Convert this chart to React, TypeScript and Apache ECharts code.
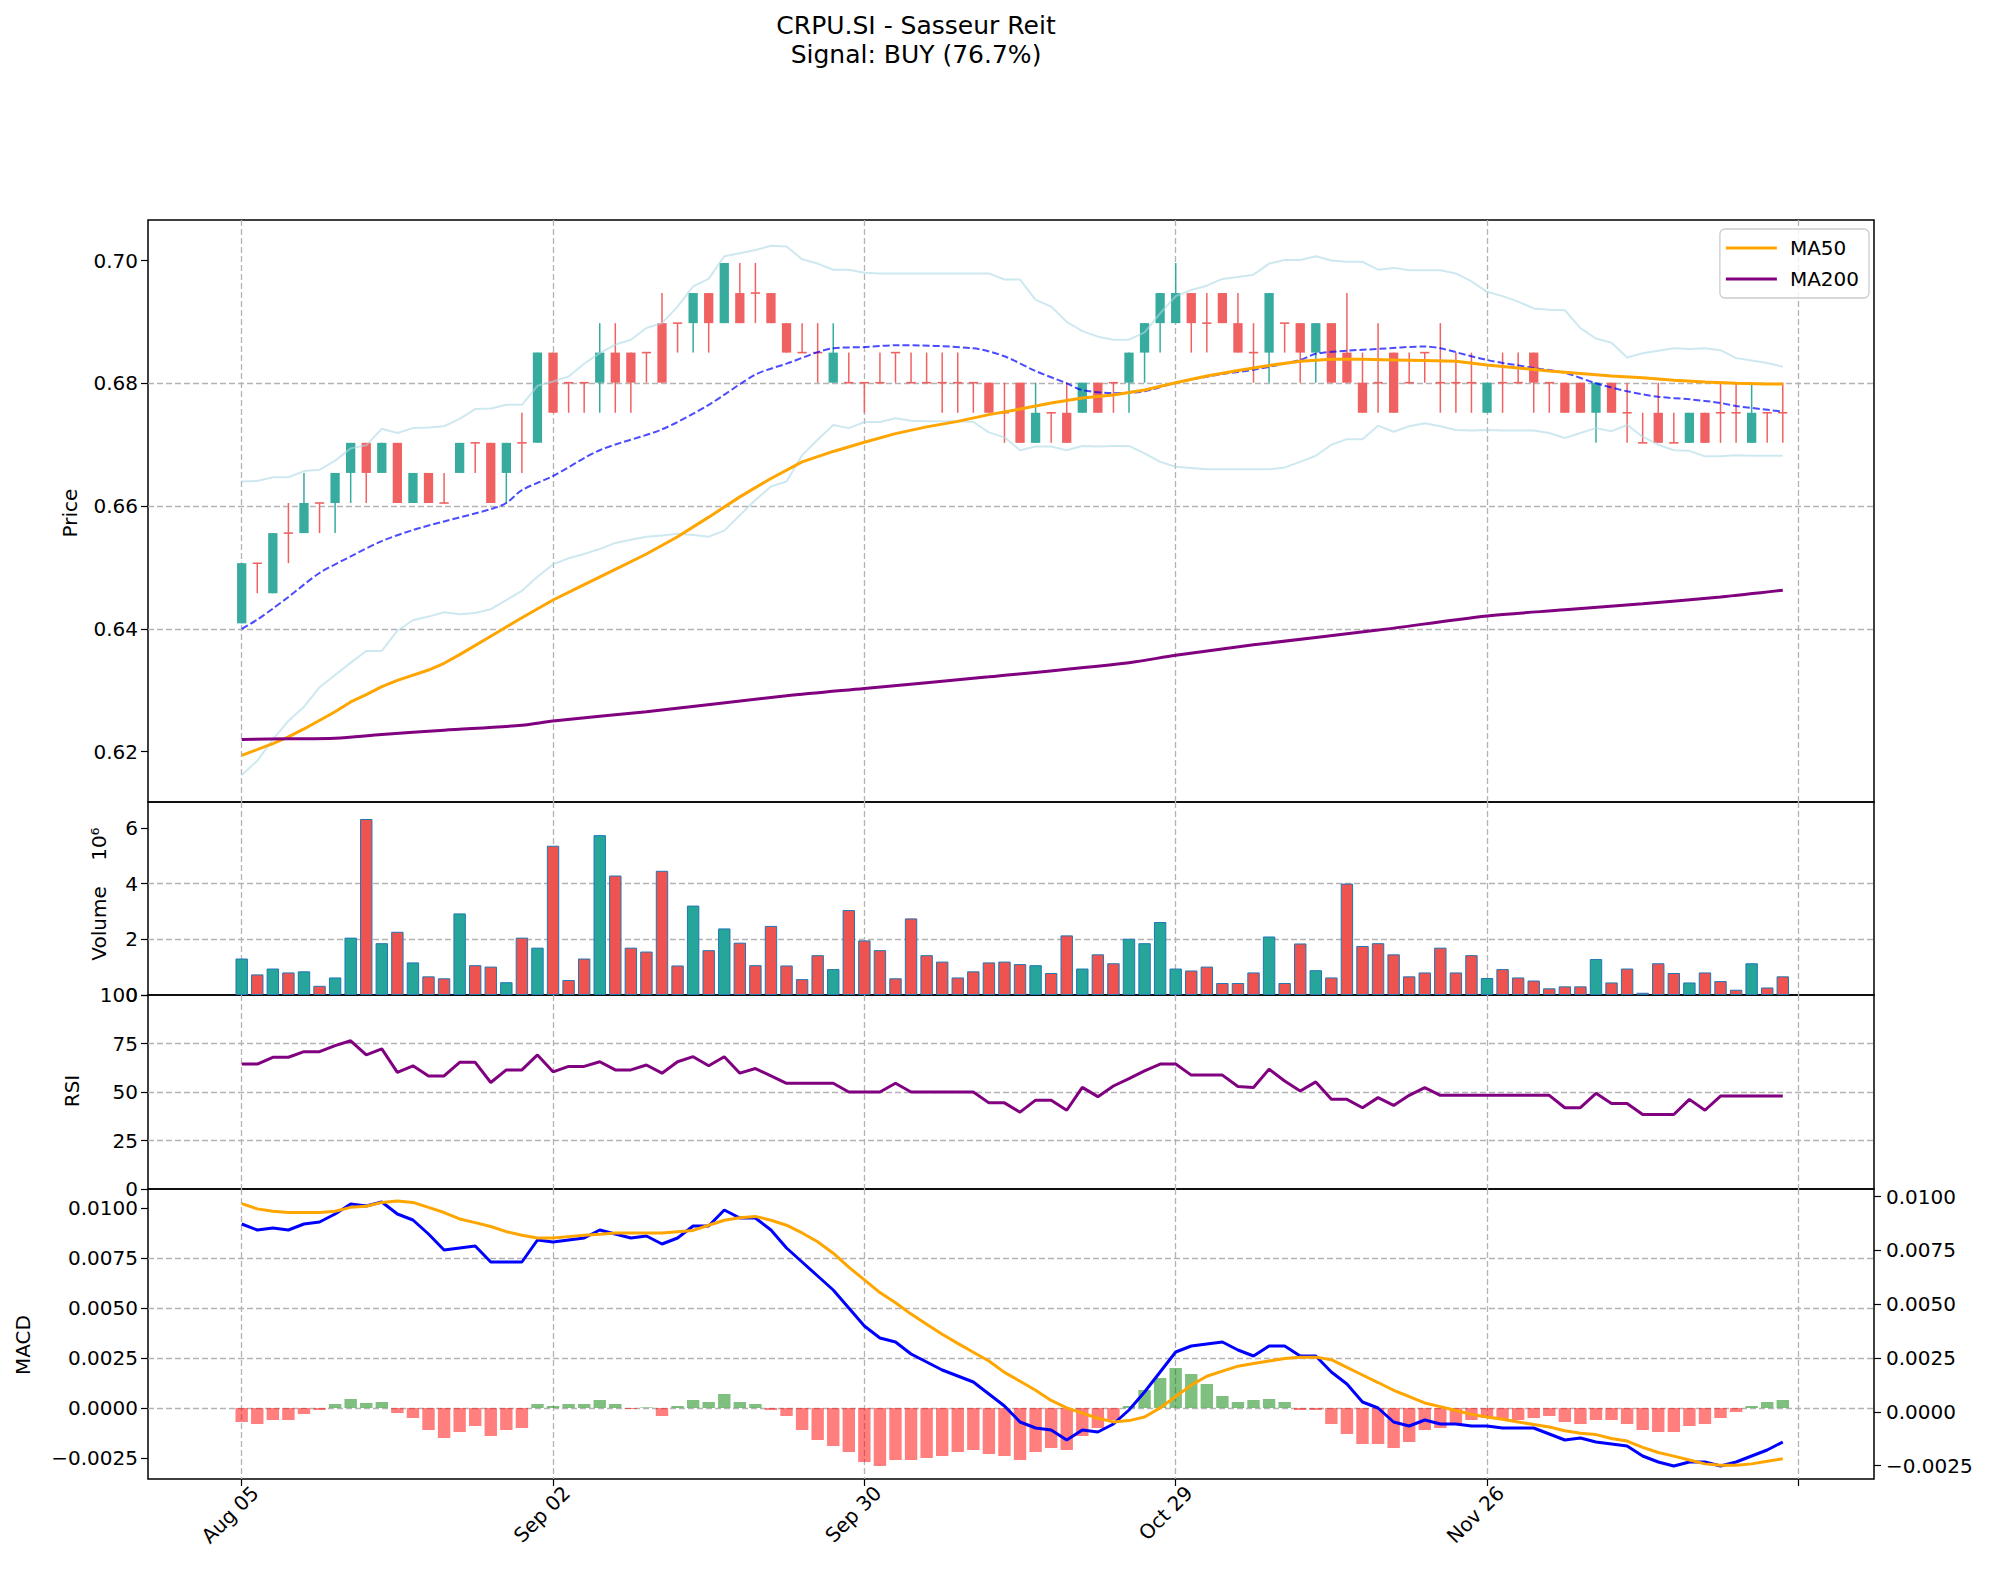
import React, { useEffect, useRef } from "react";
import * as echarts from "echarts";

const TITLE = "CRPU.SI - Sasseur Reit";
const SUBTITLE = "Signal: BUY (76.7%)";
const tickPositions = [0, 20, 40, 60, 80, 100];
const tickLabels = ["Aug 05", "Sep 02", "Sep 30", "Oct 29", "Nov 26", ""];
const priceTicks = [0.62, 0.64, 0.66, 0.68, 0.7];
const volumeTicks = [0, 2, 4, 6];
const rsiTicks = [0, 25, 50, 75, 100];
const macdTicks = [-0.0025, 0, 0.0025, 0.005, 0.0075, 0.01];

const opens = [
  0.6409, 0.6507, 0.6458, 0.6556, 0.6556, 0.6605, 0.6605, 0.6654, 0.6703, 0.6654,
  0.6703, 0.6605, 0.6654, 0.6605, 0.6654, 0.6703, 0.6703, 0.6654, 0.6703, 0.6703,
  0.685, 0.6801, 0.6801, 0.6801, 0.685, 0.685, 0.685, 0.6898, 0.6898, 0.6898,
  0.6947, 0.6898, 0.6947, 0.6947, 0.6947, 0.6898, 0.685, 0.685, 0.6801, 0.6801,
  0.6801, 0.6801, 0.685, 0.6801, 0.6801, 0.6801, 0.6801, 0.6801, 0.6801, 0.6752,
  0.6801, 0.6703, 0.6752, 0.6752, 0.6752, 0.6801, 0.6801, 0.6801, 0.685, 0.6898,
  0.6898, 0.6947, 0.6898, 0.6947, 0.6898, 0.685, 0.685, 0.6898, 0.6898, 0.685,
  0.6898, 0.685, 0.6801, 0.6801, 0.685, 0.6801, 0.685, 0.6801, 0.6801, 0.6801,
  0.6752, 0.6801, 0.6801, 0.685, 0.6801, 0.6801, 0.6801, 0.6752, 0.6801, 0.6752,
  0.6703, 0.6752, 0.6703, 0.6703, 0.6752, 0.6752, 0.6752, 0.6703, 0.6752, 0.6752,
];
const closes = [
  0.6507, 0.6507, 0.6556, 0.6556, 0.6605, 0.6605, 0.6654, 0.6703, 0.6654, 0.6703,
  0.6605, 0.6654, 0.6605, 0.6605, 0.6703, 0.6703, 0.6605, 0.6703, 0.6703, 0.685,
  0.6752, 0.6801, 0.6801, 0.685, 0.6801, 0.6801, 0.685, 0.6801, 0.6898, 0.6947,
  0.6898, 0.6996, 0.6898, 0.6947, 0.6898, 0.685, 0.685, 0.685, 0.685, 0.6801,
  0.6801, 0.6801, 0.685, 0.6801, 0.6801, 0.6801, 0.6801, 0.6801, 0.6752, 0.6752,
  0.6703, 0.6752, 0.6752, 0.6703, 0.6801, 0.6752, 0.6801, 0.685, 0.6898, 0.6947,
  0.6947, 0.6898, 0.6898, 0.6898, 0.685, 0.685, 0.6947, 0.6898, 0.685, 0.6898,
  0.6801, 0.6801, 0.6752, 0.6801, 0.6752, 0.6801, 0.685, 0.6801, 0.6801, 0.6801,
  0.6801, 0.6801, 0.6801, 0.6801, 0.6801, 0.6752, 0.6752, 0.6801, 0.6752, 0.6752,
  0.6703, 0.6703, 0.6703, 0.6752, 0.6703, 0.6752, 0.6752, 0.6752, 0.6752, 0.6752,
];
const lows = [
  0.6409, 0.6458, 0.6458, 0.6507, 0.6556, 0.6556, 0.6556, 0.6605, 0.6605, 0.6654,
  0.6605, 0.6605, 0.6605, 0.6605, 0.6654, 0.6654, 0.6605, 0.6605, 0.6654, 0.6703,
  0.6752, 0.6752, 0.6752, 0.6752, 0.6752, 0.6752, 0.6801, 0.6801, 0.685, 0.685,
  0.685, 0.6898, 0.6898, 0.6898, 0.6898, 0.685, 0.685, 0.6801, 0.6801, 0.6801,
  0.6752, 0.6801, 0.6801, 0.6801, 0.6801, 0.6752, 0.6752, 0.6752, 0.6752, 0.6703,
  0.6703, 0.6703, 0.6703, 0.6703, 0.6752, 0.6752, 0.6752, 0.6752, 0.6801, 0.685,
  0.6898, 0.685, 0.685, 0.6898, 0.685, 0.6801, 0.6801, 0.685, 0.6801, 0.6801,
  0.6801, 0.6801, 0.6752, 0.6752, 0.6752, 0.6801, 0.6801, 0.6752, 0.6752, 0.6752,
  0.6752, 0.6752, 0.6801, 0.6752, 0.6752, 0.6752, 0.6752, 0.6703, 0.6752, 0.6703,
  0.6703, 0.6703, 0.6703, 0.6703, 0.6703, 0.6703, 0.6703, 0.6703, 0.6703, 0.6703,
];
const highs = [
  0.6507, 0.6507, 0.6556, 0.6605, 0.6654, 0.6605, 0.6654, 0.6703, 0.6703, 0.6703,
  0.6703, 0.6654, 0.6654, 0.6654, 0.6703, 0.6703, 0.6703, 0.6703, 0.6752, 0.685,
  0.685, 0.6801, 0.6801, 0.6898, 0.6898, 0.685, 0.685, 0.6947, 0.6898, 0.6947,
  0.6947, 0.6996, 0.6996, 0.6996, 0.6947, 0.6898, 0.6898, 0.6898, 0.6898, 0.685,
  0.6801, 0.685, 0.685, 0.685, 0.685, 0.685, 0.685, 0.6801, 0.6801, 0.6801,
  0.6801, 0.6801, 0.6752, 0.6801, 0.6801, 0.6801, 0.6801, 0.685, 0.6898, 0.6947,
  0.6996, 0.6947, 0.6947, 0.6947, 0.6947, 0.6898, 0.6947, 0.6898, 0.6898, 0.6898,
  0.6898, 0.6947, 0.685, 0.6898, 0.685, 0.685, 0.685, 0.6898, 0.685, 0.685,
  0.6801, 0.685, 0.685, 0.685, 0.6801, 0.6801, 0.6801, 0.6801, 0.6801, 0.6801,
  0.6752, 0.6801, 0.6752, 0.6752, 0.6752, 0.6801, 0.6801, 0.6801, 0.6752, 0.6801,
];
// volume in millions of shares
const volumes = [
  1.31, 0.74, 0.95, 0.81, 0.85, 0.33, 0.63, 2.06, 6.32, 1.86,
  2.27, 1.17, 0.67, 0.6, 2.93, 1.07, 1.02, 0.46, 2.06, 1.7,
  5.36, 0.54, 1.31, 5.74, 4.29, 1.7, 1.56, 4.46, 1.06, 3.21,
  1.61, 2.39, 1.88, 1.07, 2.48, 1.06, 0.57, 1.43, 0.93, 3.05,
  1.96, 1.61, 0.6, 2.75, 1.43, 1.2, 0.63, 0.85, 1.17, 1.2,
  1.11, 1.07, 0.79, 2.14, 0.95, 1.46, 1.14, 2.02, 1.86, 2.62,
  0.95, 0.88, 1.02, 0.43, 0.43, 0.81, 2.1, 0.43, 1.85, 0.89,
  0.63, 4.0, 1.76, 1.86, 1.46, 0.67, 0.81, 1.7, 0.81, 1.43,
  0.61, 0.93, 0.63, 0.52, 0.24, 0.31, 0.31, 1.29, 0.45, 0.95,
  0.08, 1.14, 0.79, 0.45, 0.81, 0.5, 0.19, 1.14, 0.27, 0.67,
];
const bbUpper = [
  0.664, 0.6641, 0.6647, 0.6647, 0.6657, 0.6659, 0.6674, 0.6694, 0.6699, 0.6726,
  0.6719, 0.6727, 0.6728, 0.673, 0.6742, 0.6758, 0.6759, 0.6765, 0.6765, 0.6796,
  0.6803, 0.6811, 0.6832, 0.6849, 0.6863, 0.6871, 0.689, 0.6898, 0.6925, 0.6958,
  0.697, 0.7007, 0.7012, 0.7017, 0.7024, 0.7023, 0.7002, 0.6995, 0.6985, 0.6985,
  0.698, 0.6979, 0.6979, 0.6979, 0.6979, 0.6979, 0.6979, 0.6979, 0.6979, 0.6969,
  0.6969, 0.6936, 0.6925, 0.69, 0.6885, 0.6876, 0.6871, 0.6871, 0.6883, 0.6914,
  0.6942, 0.6952, 0.6959, 0.697, 0.6973, 0.6977, 0.6995, 0.7001, 0.7001, 0.7007,
  0.7, 0.6998, 0.6998, 0.6985, 0.6988, 0.6984, 0.6984, 0.6984, 0.6979, 0.6966,
  0.6949, 0.6942, 0.6933, 0.6922, 0.692, 0.6919, 0.689, 0.6873, 0.6866, 0.6842,
  0.6849, 0.6853, 0.6857, 0.6856, 0.6857, 0.6854, 0.6841, 0.6837, 0.6833, 0.6827,
];
const bbLower = [
  0.6162, 0.6185, 0.622, 0.625, 0.6273, 0.6305, 0.6325, 0.6345, 0.6364, 0.6364,
  0.6397, 0.6414, 0.642, 0.6427, 0.6424, 0.6426, 0.6432, 0.6447, 0.6462, 0.6485,
  0.6505, 0.6515, 0.6522, 0.653, 0.654, 0.6545, 0.655, 0.6552, 0.6555, 0.6553,
  0.655, 0.656, 0.6585, 0.661, 0.6632, 0.664, 0.6683, 0.6708, 0.6732, 0.6727,
  0.6737, 0.6737, 0.6743, 0.6739, 0.6738, 0.6738, 0.6738, 0.6737, 0.672, 0.6712,
  0.6691, 0.6697, 0.6697, 0.6691, 0.6698, 0.6697, 0.6698, 0.6698, 0.6686, 0.6672,
  0.6664, 0.6662, 0.666, 0.666, 0.666, 0.666, 0.666, 0.6663, 0.6672, 0.6682,
  0.67, 0.6709, 0.6709, 0.6731, 0.6721, 0.673, 0.6735, 0.673, 0.6724, 0.6723,
  0.6724, 0.6723, 0.6723, 0.6723, 0.6719, 0.6711, 0.6719, 0.6727, 0.6722, 0.6732,
  0.6713, 0.67, 0.6691, 0.669, 0.6681, 0.6681, 0.6683, 0.6682, 0.6682, 0.6682,
];
// [day index, value] points
const bbMiddle = [
  [0, 0.64], [1, 0.6415], [2, 0.6433], [3, 0.6452], [5, 0.6491], [7, 0.6518], [9, 0.6543],
  [11, 0.6561], [13, 0.6575], [16, 0.6595], [17, 0.6605], [18, 0.6626], [20, 0.6649],
  [23, 0.6691], [27, 0.6725], [30, 0.6765], [33, 0.6814], [35, 0.6832], [38, 0.6857],
  [40, 0.6859], [42, 0.6862], [47, 0.6857], [49, 0.6844], [51, 0.682], [53, 0.68],
  [54, 0.6789], [56, 0.6784], [58, 0.6787], [60, 0.6801], [63, 0.6815], [65, 0.6822],
  [68, 0.6838], [69, 0.6848], [71, 0.6853], [73, 0.6856], [76, 0.686], [77, 0.6857],
  [80, 0.6838], [83, 0.6825], [85, 0.6817], [87, 0.68], [89, 0.6787], [91, 0.6778],
  [93, 0.6774], [95, 0.6768], [96, 0.6763], [99, 0.6754],
];
const ma50 = [
  [0, 0.6194], [2, 0.6213], [3, 0.6224], [4, 0.6237], [6, 0.6265], [7, 0.6281], [8, 0.6293],
  [9, 0.6306], [10, 0.6316], [12, 0.6333], [13, 0.6344], [14, 0.6358], [16, 0.6388],
  [18, 0.6418], [20, 0.6447], [22, 0.6472], [24, 0.6497], [26, 0.6522], [28, 0.655],
  [30, 0.6582], [32, 0.6615], [34, 0.6645], [36, 0.6672], [38, 0.6689], [40, 0.6704],
  [42, 0.6718], [44, 0.6729], [46, 0.6738], [48, 0.6749], [50, 0.6758], [52, 0.6768],
  [54, 0.6776], [56, 0.6781], [58, 0.6789], [60, 0.6801], [62, 0.6812], [64, 0.6821],
  [66, 0.6829], [68, 0.6836], [70, 0.6839], [72, 0.6839], [74, 0.6838], [76, 0.6837],
  [78, 0.6836], [80, 0.683], [82, 0.6825], [84, 0.682], [86, 0.6816], [88, 0.6812],
  [90, 0.6809], [92, 0.6805], [94, 0.6802], [96, 0.68], [98, 0.6799], [99, 0.6799],
];
const ma200 = [
  [0, 0.622], [3, 0.6221], [6, 0.6222], [9, 0.6228], [13, 0.6235], [18, 0.6243],
  [20, 0.625], [26, 0.6265], [35, 0.6291], [40, 0.6303], [48, 0.6322], [57, 0.6345],
  [60, 0.6357], [65, 0.6374], [73, 0.6398], [80, 0.6421], [85, 0.6431], [90, 0.6441],
  [95, 0.6452], [99, 0.6463],
];
const rsi = [
  64.4, 64.4, 67.9, 67.9, 70.8, 70.8, 73.9, 76.4, 69.1, 72.2,
  60.1, 63.5, 58.3, 58.3, 65.3, 65.3, 54.9, 61.4, 61.4, 69.1,
  60.4, 63.2, 63.2, 65.6, 61.4, 61.4, 63.9, 59.7, 65.6, 68.2,
  63.5, 68.2, 59.7, 62.1, 58.3, 54.5, 54.5, 54.5, 54.5, 50,
  50, 50, 54.5, 50, 50, 50, 50, 50, 44.4, 44.4,
  39.6, 45.8, 45.8, 40.6, 52.4, 47.6, 53.1, 56.9, 60.9, 64.4,
  64.4, 58.7, 58.7, 58.7, 52.8, 52.3, 61.8, 55.7, 50.5, 55.2,
  46.2, 46.2, 41.9, 47.1, 43.1, 48.3, 52.3, 48.3, 48.3, 48.3,
  48.3, 48.3, 48.3, 48.3, 48.3, 41.9, 41.9, 49.3, 44.1, 44.1,
  38.4, 38.4, 38.4, 46.2, 40.6, 47.9, 47.9, 47.9, 47.9, 47.9,
];
const macd = [
  0.0092, 0.0089, 0.009, 0.0089, 0.0092, 0.0093, 0.0097, 0.0102, 0.0101, 0.0103,
  0.0097, 0.0094, 0.0087, 0.0079, 0.008, 0.0081, 0.0073, 0.0073, 0.0073, 0.0084,
  0.0083, 0.0084, 0.0085, 0.0089, 0.0087, 0.0085, 0.0086, 0.0082, 0.0085, 0.0091,
  0.0091, 0.0099, 0.0095, 0.0095, 0.0089, 0.008, 0.0073, 0.0066, 0.0059, 0.005,
  0.0041, 0.0035, 0.0033, 0.0027, 0.0023, 0.0019, 0.0016, 0.0013, 0.0007, 0.0001,
  -0.0007, -0.001, -0.0011, -0.0016, -0.0011, -0.0012, -0.0008, -0.0001, 0.0008, 0.0018,
  0.0028, 0.0031, 0.0032, 0.0033, 0.0029, 0.0026, 0.0031, 0.0031, 0.0026, 0.0026,
  0.0018, 0.0012, 0.0003, 0.0, -0.0007, -0.0009, -0.0006, -0.0008, -0.0008, -0.0009,
  -0.0009, -0.001, -0.001, -0.001, -0.0013, -0.0016, -0.0015, -0.0017, -0.0018, -0.0019,
  -0.0024, -0.0027, -0.0029, -0.0027, -0.0027, -0.0029, -0.0027, -0.0024, -0.0021, -0.0017,
];
// signal line, plotted against the right-hand MACD axis
const signal = [
  0.00967, 0.00943, 0.00932, 0.00926, 0.00926, 0.00926, 0.00932, 0.0095, 0.00955, 0.00973,
  0.00979, 0.00973, 0.0095, 0.00926, 0.00896, 0.00879, 0.00861, 0.00837, 0.0082, 0.00808,
  0.00808, 0.00814, 0.0082, 0.00825, 0.00831, 0.00831, 0.00831, 0.00831, 0.00837, 0.00843,
  0.00867, 0.0089, 0.00902, 0.00908, 0.0089, 0.00867, 0.00831, 0.0079, 0.00737, 0.00672,
  0.00613, 0.00554, 0.00507, 0.00454, 0.00407, 0.0036, 0.00318, 0.00277, 0.00236, 0.00183,
  0.00142, 0.001, 0.00053, 0.00018, -0.00006, -0.0003, -0.00047, -0.00041, -0.00024, 0.00018,
  0.00071, 0.00124, 0.00165, 0.00189, 0.00212, 0.00224, 0.00236, 0.00248, 0.00254, 0.00254,
  0.00242, 0.00206, 0.00171, 0.00136, 0.001, 0.00071, 0.00041, 0.00024, 0.00006, -0.00012,
  -0.00024, -0.00035, -0.00047, -0.00059, -0.00071, -0.00088, -0.001, -0.00106, -0.00124, -0.00136,
  -0.00165, -0.00189, -0.00206, -0.00224, -0.00242, -0.00248, -0.00248, -0.00242, -0.0023, -0.00218,
];
const histogram = [
  -0.0007, -0.0008, -0.0006, -0.0006, -0.0003, -0.0001, 0.0002, 0.00045, 0.00025, 0.0003,
  -0.00025, -0.0005, -0.0011, -0.0015, -0.0012, -0.0009, -0.0014, -0.0011, -0.001, 0.0002,
  0.0001, 0.0002, 0.0002, 0.0004, 0.0002, -0.00005, 0.00003, -0.0004, 0.0001, 0.0004,
  0.0003, 0.0007, 0.0003, 0.0002, -0.0001, -0.0004, -0.0011, -0.0016, -0.0019, -0.0022,
  -0.0027, -0.0029, -0.0026, -0.0026, -0.0025, -0.0024, -0.0022, -0.0021, -0.0023, -0.0024,
  -0.0026, -0.0022, -0.002, -0.0021, -0.0014, -0.001, -0.0006, 0.0001, 0.0009, 0.0015,
  0.002, 0.0017, 0.0012, 0.0006, 0.0003, 0.0004, 0.00045, 0.0003, -0.0001, -0.0001,
  -0.0008, -0.0013, -0.0018, -0.0018, -0.002, -0.0017, -0.0011, -0.001, -0.0008, -0.0006,
  -0.0005, -0.0006, -0.0006, -0.0005, -0.0004, -0.0007, -0.0008, -0.0006, -0.0006, -0.0008,
  -0.0011, -0.0012, -0.0012, -0.0009, -0.0008, -0.0005, -0.0002, 0.0001, 0.0003, 0.0004,
];

const FONT = "DejaVu Sans";
const XMIN = -6.02;
const XMAX = 104.86;
const GREEN = "#38ab9f";
const RED = "#f06262";
const VGREEN = "#26a69a";
const VRED = "#ef5350";
const GRID_LINE = { color: "#b3b3b3", type: [6, 3] as any, width: 1.3 };
const TICK_STYLE = { color: "#000", width: 1.2 };

const labelFor = (v: number) => {
  const k = tickPositions.indexOf(Math.round(v));
  return k >= 0 ? tickLabels[k] : "";
};
const macdFmt = (v: number) => {
  if (Math.abs(v) < 1e-9) return "0.0000";
  return v < 0 ? "\u2212" + Math.abs(v).toFixed(4) : v.toFixed(4);
};

export default function App() {
  const ref = useRef<HTMLDivElement>(null);
  useEffect(() => {
    const chart = echarts.init(ref.current!, null, { renderer: "svg" });

    const candleData = opens.map((o, i) => [i, o, closes[i], lows[i], highs[i]]);
    const volData = volumes.map((v, i) => ({
      value: [i, v],
      itemStyle: { color: closes[i] > opens[i] ? VGREEN : VRED },
    }));
    const histData = histogram.map((v, i) => ({
      value: [i, v],
      itemStyle: { color: v >= 0 ? "rgba(0,128,0,0.5)" : "rgba(255,0,0,0.5)" },
    }));
    const idx = (arr: number[]) => arr.map((v, i) => [i, v]);

    const mkX = (gi: number, showLabel: boolean) => ({
      type: "value",
      gridIndex: gi,
      min: XMIN,
      max: XMAX,
      axisLine: { show: false, onZero: false },
      axisTick: {
        show: showLabel,
        customValues: tickPositions,
        length: 7,
        lineStyle: TICK_STYLE,
      },
      axisLabel: {
        show: showLabel,
        customValues: tickPositions,
        rotate: 45,
        formatter: (v: number) => labelFor(v),
        fontFamily: FONT,
        fontSize: 20,
        color: "#000",
        margin: 24,
        padding: [0, -19, 0, 0],
      },
      splitLine: { show: true, lineStyle: GRID_LINE },
    });

    const mkY = (
      gi: number,
      min: number,
      max: number,
      ticks: number[],
      fmt: (v: number) => string,
      extra: any = {}
    ) => ({
      type: "value",
      gridIndex: gi,
      min,
      max,
      axisLine: { show: false, onZero: false },
      axisTick: { show: true, customValues: ticks, length: 7, lineStyle: TICK_STYLE },
      axisLabel: {
        customValues: ticks,
        formatter: fmt,
        fontFamily: FONT,
        fontSize: 20,
        color: "#000",
        margin: 10,
      },
      splitLine: {
        show: true,
        showMinLine: false,
        showMaxLine: false,
        lineStyle: GRID_LINE,
      },
      ...extra,
    });

    const gridBase = {
      left: 148,
      width: 1726,
      show: true,
      borderColor: "#000",
      borderWidth: 1.5,
      backgroundColor: "transparent",
    };

    const vText = (text: string, x: number, y: number) => ({
      type: "text",
      x,
      y,
      rotation: Math.PI / 2,
      style: {
        text,
        fontFamily: FONT,
        fontSize: 20,
        fill: "#000",
        textAlign: "center",
        textVerticalAlign: "middle",
      },
    });

    const option: any = {
      animation: false,
      backgroundColor: "#fff",
      textStyle: { fontFamily: FONT },
      grid: [
        { ...gridBase, top: 220, height: 582 },
        { ...gridBase, top: 802, height: 193 },
        { ...gridBase, top: 995, height: 194 },
        { ...gridBase, top: 1189, height: 290 },
      ],
      xAxis: [mkX(0, false), mkX(1, false), mkX(2, false), mkX(3, true)],
      yAxis: [
        mkY(0, 0.6118, 0.7066, priceTicks, (v) => v.toFixed(2)),
        mkY(1, 0, 6.93, volumeTicks, (v) => String(Math.round(v))),
        mkY(2, 0, 100, rsiTicks, (v) => String(Math.round(v))),
        mkY(3, -0.00355, 0.01095, macdTicks, macdFmt),
        mkY(3, -0.003123, 0.010353, macdTicks, macdFmt, {
          position: "right",
          splitLine: { show: false },
          axisLabel: {
            customValues: macdTicks,
            formatter: macdFmt,
            fontFamily: FONT,
            fontSize: 20,
            color: "#000",
            margin: 12,
          },
        }),
      ],
      legend: {
        data: [
          { name: "MA50", icon: "rect" },
          { name: "MA200", icon: "rect" },
        ],
        orient: "vertical",
        right: 127,
        top: 229,
        itemWidth: 51,
        itemHeight: 3,
        itemGap: 11,
        padding: [9, 10, 9, 6],
        backgroundColor: "rgba(255,255,255,0.8)",
        borderColor: "#cccccc",
        borderWidth: 1.3,
        borderRadius: 5,
        textStyle: {
          fontFamily: FONT,
          fontSize: 20,
          color: "#000",
          padding: [0, 0, 0, 8],
        },
      },
      graphic: [
        {
          type: "text",
          x: 916,
          y: 25,
          style: {
            text: TITLE,
            fontFamily: FONT,
            fontSize: 25,
            fill: "#000",
            textAlign: "center",
            textVerticalAlign: "middle",
          },
        },
        {
          type: "text",
          x: 916,
          y: 54,
          style: {
            text: SUBTITLE,
            fontFamily: FONT,
            fontSize: 25,
            fill: "#000",
            textAlign: "center",
            textVerticalAlign: "middle",
          },
        },
        vText("Price", 70, 513),
        vText("Volume    10\u2076", 99, 894),
        vText("RSI", 72, 1091),
        vText("MACD", 23, 1345),
      ],
      series: [
        {
          type: "custom",
          xAxisIndex: 0,
          yAxisIndex: 0,
          z: 2,
          encode: { x: 0, y: [1, 2, 3, 4] },
          data: candleData,
          renderItem: (params: any, api: any) => {
            const x = api.value(0);
            const o = api.value(1);
            const c = api.value(2);
            const l = api.value(3);
            const h = api.value(4);
            const col = c > o ? GREEN : RED;
            const pTop = api.coord([x, Math.max(o, c)]);
            const pBot = api.coord([x, Math.min(o, c)]);
            const pH = api.coord([x, h]);
            const pL = api.coord([x, l]);
            const w = 9.3;
            let bh = pBot[1] - pTop[1];
            let by = pTop[1];
            if (bh < 1.6) {
              by = pTop[1] - 0.8;
              bh = 1.6;
            }
            return {
              type: "group",
              children: [
                {
                  type: "line",
                  shape: { x1: pH[0], y1: pH[1], x2: pL[0], y2: pL[1] },
                  style: { stroke: col, lineWidth: 1.5 },
                },
                {
                  type: "rect",
                  shape: { x: pTop[0] - w / 2, y: by, width: w, height: bh },
                  style: { fill: col, stroke: null },
                },
              ],
            };
          },
        },
        {
          type: "line",
          xAxisIndex: 0,
          yAxisIndex: 0,
          data: idx(bbUpper),
          showSymbol: false,
          symbol: "none",
          z: 3,
          lineStyle: { color: "rgba(173,216,230,0.6)", width: 2 },
        },
        {
          type: "line",
          xAxisIndex: 0,
          yAxisIndex: 0,
          data: idx(bbLower),
          showSymbol: false,
          symbol: "none",
          z: 3,
          lineStyle: { color: "rgba(173,216,230,0.6)", width: 2 },
        },
        {
          type: "line",
          xAxisIndex: 0,
          yAxisIndex: 0,
          data: bbMiddle,
          showSymbol: false,
          symbol: "none",
          smooth: 0.3,
          z: 3,
          lineStyle: { color: "rgba(0,0,255,0.7)", width: 2, type: [7, 3] },
        },
        {
          name: "MA50",
          type: "line",
          xAxisIndex: 0,
          yAxisIndex: 0,
          data: ma50,
          showSymbol: false,
          symbol: "none",
          z: 4,
          color: "#ffa500",
          lineStyle: { color: "#ffa500", width: 3 },
        },
        {
          name: "MA200",
          type: "line",
          xAxisIndex: 0,
          yAxisIndex: 0,
          data: ma200,
          showSymbol: false,
          symbol: "none",
          smooth: 0.3,
          z: 4,
          color: "#800080",
          lineStyle: { color: "#800080", width: 3 },
        },
        {
          type: "bar",
          xAxisIndex: 1,
          yAxisIndex: 1,
          data: volData,
          barWidth: 12.4,
          itemStyle: { borderColor: "#1f77b4", borderWidth: 1 },
        },
        {
          type: "line",
          xAxisIndex: 2,
          yAxisIndex: 2,
          data: idx(rsi),
          showSymbol: false,
          symbol: "none",
          lineStyle: { color: "#800080", width: 3 },
        },
        {
          type: "bar",
          xAxisIndex: 3,
          yAxisIndex: 3,
          data: histData,
          barWidth: 12.4,
        },
        {
          type: "line",
          xAxisIndex: 3,
          yAxisIndex: 3,
          data: idx(macd),
          showSymbol: false,
          symbol: "none",
          z: 4,
          lineStyle: { color: "#0000ff", width: 3 },
        },
        {
          type: "line",
          xAxisIndex: 3,
          yAxisIndex: 4,
          data: idx(signal),
          showSymbol: false,
          symbol: "none",
          z: 4,
          lineStyle: { color: "#ffa500", width: 3 },
        },
      ],
    };

    chart.setOption(option);
    return () => chart.dispose();
  }, []);

  return (
    <div
      ref={ref}
      style={{
        position: "fixed",
        left: 0,
        top: 0,
        width: 1996,
        height: 1576,
        background: "#fff",
      }}
    />
  );
}
